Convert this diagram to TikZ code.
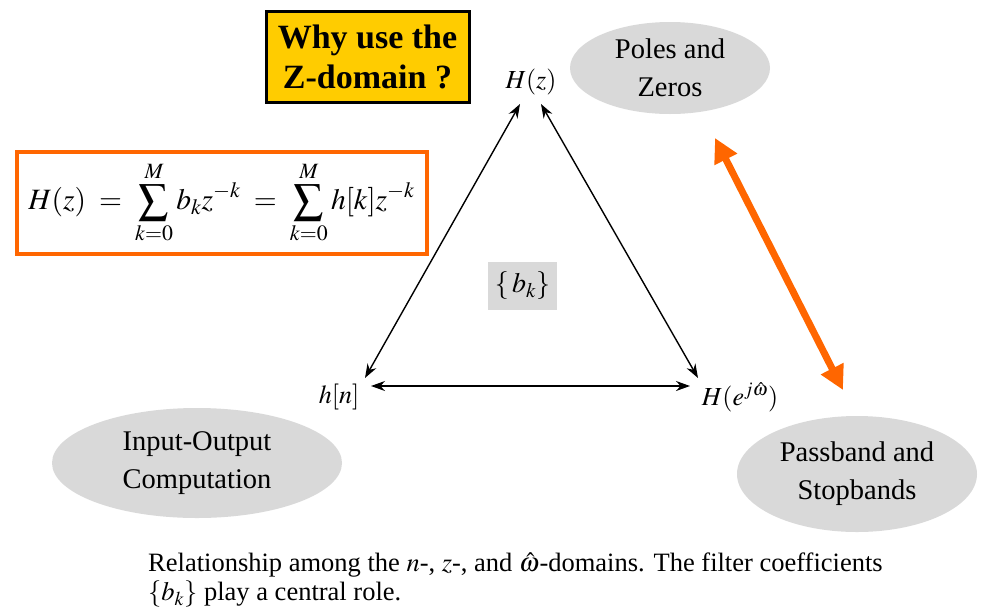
\documentclass[tikz,border=0pt]{standalone}
\usepackage{mathptmx}
\usepackage{fontspec}
\setmainfont{Liberation Serif}
\usetikzlibrary{arrows.meta,shapes.geometric}
\definecolor{gold}{HTML}{FFCC00}
\definecolor{orng}{HTML}{FF6600}
\definecolor{lgray}{HTML}{D9D9D9}
\begin{document}
\begin{tikzpicture}[x=1pt,y=-1pt,
  blob/.style={ellipse,fill=lgray,align=center,font=\fontsize{28.5}{38}\selectfont,inner sep=0pt},
  lbl/.style={font=\fontsize{26}{30}\selectfont,inner sep=2pt},
  tri/.style={line width=1.4pt,{Stealth[length=14pt,width=10pt]}-{Stealth[length=14pt,width=10pt]}}]
\useasboundingbox (0,0) rectangle (993,611);
% title box
\node[draw=black,line width=3pt,fill=gold,minimum width=203pt,minimum height=91pt,align=center,
  font=\fontsize{34}{40}\selectfont\bfseries] (why) at (367.5,56.5) {Why use the\\Z-domain ?};
% ellipses
\node[blob,minimum width=200pt,minimum height=92pt] (pz) at (670,68) {Poles and\\Zeros};
\node[blob,minimum width=290pt,minimum height=110pt] (io) at (197,463) {Input-Output\\Computation};
\node[blob,minimum width=240pt,minimum height=116pt] (pb) at (857,474) {Passband and\\Stopbands};
% equation
\node[draw=orng,line width=4pt,minimum width=410pt,minimum height=102pt,font=\fontsize{29.5}{34}\selectfont] (eq) at (221.5,202.5)
  {$H(z)\;=\;\displaystyle\sum_{k=0}^{M} b_k z^{-k}\;=\;\sum_{k=0}^{M} h[k]z^{-k}$};
% bk
\node[fill=lgray,minimum width=69pt,minimum height=48pt,font=\fontsize{28}{32}\selectfont] (bk) at (522.5,286) {$\{\,b_k\}$};
% labels
\node[lbl] (hz) at (531,82) {$H(z)$};
\node[lbl] (hn) at (339,397) {$h[n]$};
\node[lbl] (hw) at (740,397) {$H(e^{j\hat\omega})$};
\coordinate (hzL) at (520,104);
\coordinate (hzR) at (541,104);
\coordinate (hnT) at (365,378);
\coordinate (hnR) at (371,386);
\coordinate (hwT) at (698,378);
\coordinate (hwL) at (690,386);
\draw[tri] (hzL) -- (hnT);
\draw[tri] (hzR) -- (hwT);
\draw[tri] (hnR) -- (hwL);
% orange arrow
\coordinate (oa) at (715,138);
\coordinate (ob) at (843,390);
\draw[orng,line width=7pt,{Triangle[length=24pt,width=24pt]}-{Triangle[length=24pt,width=24pt]}] (oa) -- (ob);
% caption
\node[anchor=west,align=left,font=\fontsize{26.5}{29}\selectfont,inner sep=0pt] (cap) at (148,580)
  {Relationship among the $n$-, $z$-, and $\hat\omega$-domains. The filter coefficients\\$\{b_k\}$ play a central role.};
\end{tikzpicture}
\end{document}
